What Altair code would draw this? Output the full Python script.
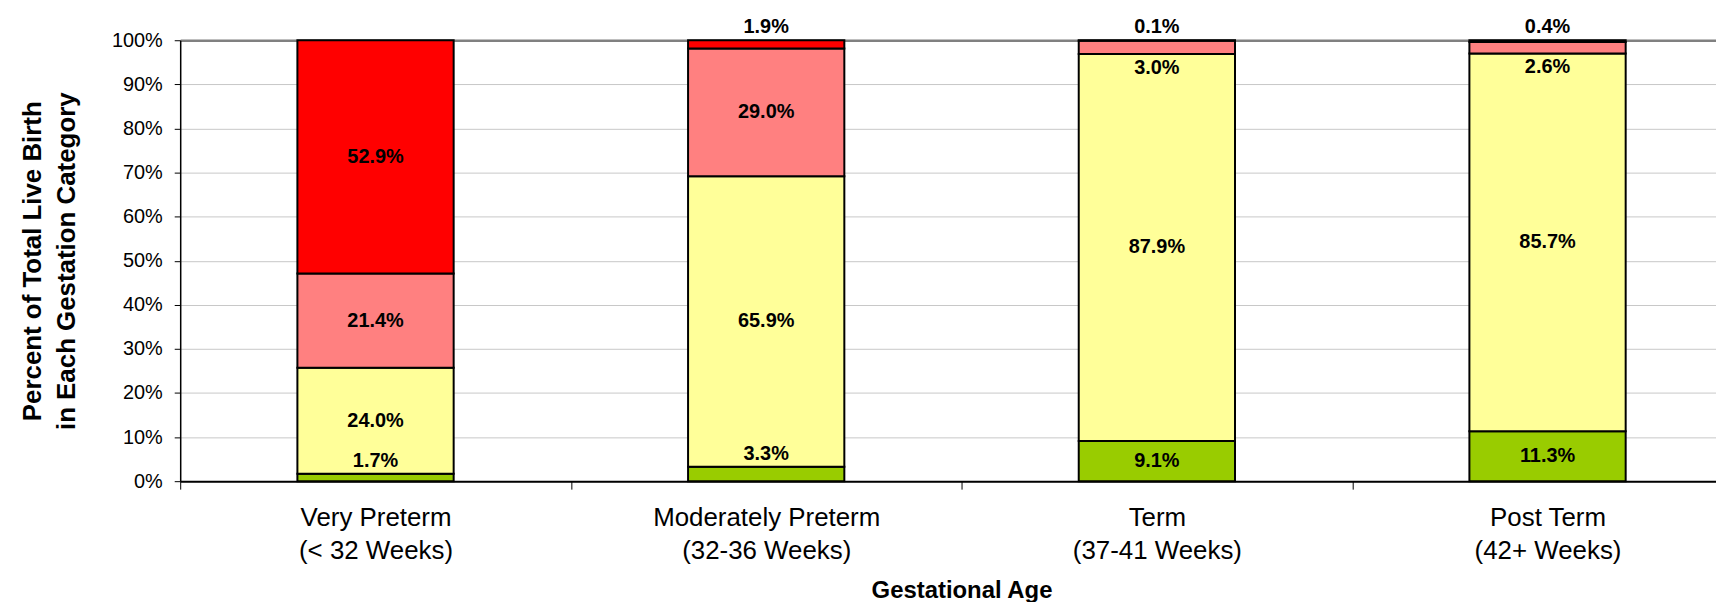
import altair as alt
import pandas as pd

# ---- data ----
categories = ["Very Preterm", "Moderately Preterm", "Term", "Post Term"]
week_labels = ["(< 32 Weeks)", "(32-36 Weeks)", "(37-41 Weeks)", "(42+ Weeks)"]
series = ["4000+ g", "2500-3999 g", "1500-2499 g", "< 1500 g"]  # bottom to top
colors = ["#99CC00", "#FFFF99", "#FF8080", "#FF0000"]
green = [1.7, 3.3, 9.1, 11.3]
yellow = [24.0, 65.9, 87.9, 85.7]
pink = [21.4, 29.0, 3.0, 2.6]
red = [52.9, 1.9, 0.1, 0.4]
y_ticks = [0, 0.1, 0.2, 0.3, 0.4, 0.5, 0.6, 0.7, 0.8, 0.9, 1.0]

values = [green, yellow, pink, red]
rows = []
for i, cat in enumerate(categories):
    catlabel = cat + "|" + week_labels[i]
    total = sum(v[i] for v in values)
    cum = 0.0
    for j, s in enumerate(series):
        v = values[j][i]
        y0 = cum / total
        y1 = (cum + v) / total
        cum += v
        if j == 0 and v < 4:
            pos, ly = "above", y1
        elif j == 3 and v < 2.5:
            pos, ly = "above", y1
        elif j == 2 and v < 4:
            pos, ly = "below", y0
        else:
            pos, ly = "mid", (y0 + y1) / 2
        rows.append(dict(cat=catlabel, series=s, y0=y0, y1=y1, ly=ly,
                         pos=pos, label=f"{v:.1f}%", order=j))
df = pd.DataFrame(rows)
cat_order = [c + "|" + w for c, w in zip(categories, week_labels)]

FONT = "Liberation Sans"

x_enc = alt.X(
    "cat:N", sort=cat_order,
    scale=alt.Scale(range=[0, 1570], paddingInner=0, paddingOuter=0),
    axis=alt.Axis(
        title="Gestational Age", labelAngle=0,
        labelExpr="split(datum.label, '|')",
        labelFontSize=26, labelLineHeight=33, labelColor="black",
        labelFont=FONT, labelPadding=16, labelLimit=0,
        tickBand="extent", tickSize=8, tickColor="black", tickWidth=1,
        domainColor="black", domainWidth=2,
        titleFont=FONT, titleFontSize=24, titleFontWeight="bold",
        titleColor="black", titlePadding=15, grid=False,
    ),
)

base = alt.Chart(df)

bars = base.mark_bar(width=alt.RelativeBandSize(0.4), stroke="black",
                     strokeWidth=2).encode(
    x=x_enc,
    y=alt.Y("y0:Q", scale=alt.Scale(domain=[0, 1], nice=False),
            axis=alt.Axis(
                values=y_ticks, format=".0%",
                title=["Percent of Total Live Birth", "in Each Gestation Category"],
                titleFont=FONT, titleFontSize=26, titleFontWeight="bold",
                titleColor="black", titleLineHeight=34, titlePadding=32,
                labelFont=FONT, labelFontSize=20, labelColor="black",
                labelPadding=12, tickSize=6, tickColor="black",
                domainColor="black", domainWidth=1.5,
                gridColor={"condition": {"test": "datum.value >= 1", "value": "#808080"},
                           "value": "#c8c8c8"},
                gridWidth={"condition": {"test": "datum.value >= 1", "value": 2.5},
                           "value": 1},
            )),
    y2="y1:Q",
    color=alt.Color("series:N", sort=series,
                    scale=alt.Scale(domain=series, range=colors), legend=None),
)

def text_layer(pos, baseline, dy):
    return base.transform_filter(alt.datum.pos == pos).mark_text(
        font=FONT, fontSize=20, fontWeight="bold", color="black",
        baseline=baseline, dy=dy,
    ).encode(x=alt.X("cat:N", sort=cat_order), y=alt.Y("ly:Q"), text="label:N")

chart = alt.layer(
    bars,
    text_layer("mid", "middle", 0),
    text_layer("above", "bottom", -3),
    text_layer("below", "top", 4),
).properties(
    width=1543, height=443,
    autosize=alt.AutoSizeParams(type="none"),
    padding={"left": 173, "top": 31, "right": 0, "bottom": 120},
).configure_view(strokeWidth=0).configure(background="white")

chart.save("out.html", embed_options={"renderer": "svg", "actions": False})
